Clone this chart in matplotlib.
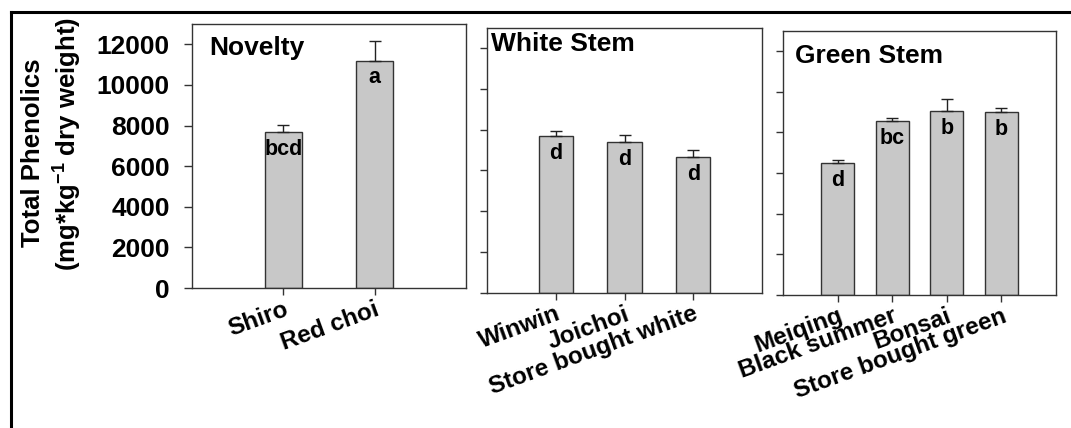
# Total phenolics by cultivar, three panels
import matplotlib
matplotlib.use("Agg")
import matplotlib.pyplot as plt
from matplotlib.lines import Line2D

plt.rcParams['font.family'] = ['Liberation Sans', 'DejaVu Sans']
plt.rcParams['font.weight'] = 'bold'
plt.rcParams['mathtext.fontset'] = 'custom'
plt.rcParams['mathtext.rm'] = 'Liberation Sans:bold'
plt.rcParams['mathtext.bf'] = 'Liberation Sans:bold'

# data
novelty_names = ["Shiro", "Red choi"]
novelty_means = [7700, 11200]
novelty_errs = [350, 950]
novelty_letters = ["bcd", "a"]

white_names = ["Winwin", "Joichoi", "Store bought white"]
white_means = [7680, 7400, 6650]
white_errs = [280, 330, 360]
white_letters = ["d", "d", "d"]

green_names = ["Meiqing", "Black summer", "Bonsai", "Store bought green"]
green_means = [6500, 8560, 9070, 8990]
green_errs = [120, 150, 570, 230]
green_letters = ["d", "bc", "b", "b"]

panel_titles = ["Novelty", "White Stem", "Green Stem"]
y_ticks = [0, 2000, 4000, 6000, 8000, 10000, 12000]

panels = [
    (novelty_names, novelty_means, novelty_errs, novelty_letters),
    (white_names, white_means, white_errs, white_letters),
    (green_names, green_means, green_errs, green_letters),
]

# layout (figure fractions) and title placement (axes fractions)
axes_rects = [
    [0.1793, 0.327, 0.2558, 0.617],
    [0.4547, 0.316, 0.2568, 0.619],
    [0.7311, 0.3115, 0.2549, 0.616],
]
title_pos = [(0.062, 0.955), (0.015, 0.985), (0.044, 0.95)]
bar_widths = [0.4, 0.5, 0.6]

fig = plt.figure(figsize=(10.71, 4.28), dpi=100)

for i, (names, means, errs, letters) in enumerate(panels):
    ax = fig.add_axes(axes_rects[i])
    x = list(range(len(names)))
    ax.bar(x, means, width=bar_widths[i], color='#c8c8c8',
           edgecolor='#333333', linewidth=1, zorder=2)
    ax.errorbar(x, means, yerr=[[0] * len(errs), errs], fmt='none',
                ecolor='#222222', elinewidth=1, capsize=4, capthick=1, zorder=3)
    for xi, m, lab in zip(x, means, letters):
        ax.annotate(lab, (xi, m), xytext=(0, -5), textcoords='offset points',
                    ha='center', va='top', fontsize=15.5, fontweight='bold', zorder=4)
    ax.set_xlim(-1, len(names))
    ax.set_ylim(0, 13000)
    ax.set_yticks(y_ticks)
    ax.set_xticks(x)
    ax.set_xticklabels(names, rotation=20, ha='right', va='top',
                       rotation_mode='anchor', fontsize=17.5, fontweight='bold')
    ax.tick_params(axis='x', direction='out', length=5, width=1, pad=2,
                   color='#333333')
    if i == 0:
        ax.tick_params(axis='y', direction='out', length=6, width=1, pad=10,
                       labelsize=19, color='#333333')
        for t in ax.get_yticklabels():
            t.set_fontweight('bold')
    else:
        ax.tick_params(axis='y', direction='out', length=5, width=1,
                       labelleft=False, color='#333333')
    for s in ax.spines.values():
        s.set_color('#333333')
        s.set_linewidth(1)
    tx, ty = title_pos[i]
    ax.text(tx, ty, panel_titles[i], transform=ax.transAxes, ha='left', va='top',
            fontsize=19, fontweight='bold')

fig.text(0.031, 0.6425, "Total Phenolics", rotation=90, ha='center', va='center',
         fontsize=18.5, fontweight='bold')
fig.text(0.0626, 0.664, r"(mg*kg$^{\mathbf{-1}}$ dry weight)", rotation=90,
         ha='center', va='center', fontsize=18.5, fontweight='bold')

# outer frame (left and top edges only)
fig.add_artist(Line2D([0.0103, 0.0103], [0, 0.971], color='black', lw=2.2,
                      transform=fig.transFigure))
fig.add_artist(Line2D([0.0103, 1], [0.971, 0.971], color='black', lw=2.2,
                      transform=fig.transFigure))

fig.savefig("out.png", dpi=100)
